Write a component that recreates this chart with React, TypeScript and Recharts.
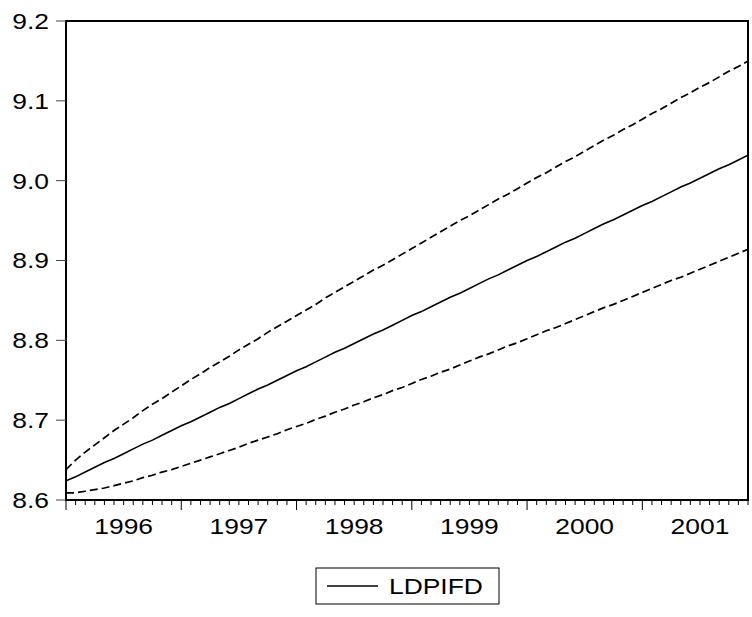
import React from "react"
import { LineChart, Line, XAxis, YAxis, ReferenceArea } from "recharts"

// Monthly forecast of LDPIFD, 1996M01 - 2001M12, with +/- 2 S.E. bands
const years = ["1996", "1997", "1998", "1999", "2000", "2001"]

const forecast = [
  8.624, 8.629, 8.635, 8.641, 8.647, 8.652, 8.658, 8.664, 8.670, 8.675, 8.681, 8.687,
  8.693, 8.698, 8.704, 8.710, 8.716, 8.721, 8.727, 8.733, 8.739, 8.744, 8.750, 8.756,
  8.762, 8.767, 8.773, 8.779, 8.785, 8.790, 8.796, 8.802, 8.808, 8.813, 8.819, 8.825,
  8.831, 8.836, 8.842, 8.848, 8.854, 8.859, 8.865, 8.871, 8.877, 8.882, 8.888, 8.894,
  8.900, 8.905, 8.911, 8.917, 8.923, 8.928, 8.934, 8.940, 8.946, 8.951, 8.957, 8.963,
  8.969, 8.974, 8.980, 8.986, 8.992, 8.997, 9.003, 9.009, 9.015, 9.020, 9.026, 9.032,
]

const upperBand = [
  8.638, 8.650, 8.660, 8.669, 8.678, 8.687, 8.695, 8.703, 8.712, 8.720, 8.727, 8.735,
  8.743, 8.751, 8.758, 8.766, 8.773, 8.780, 8.788, 8.795, 8.802, 8.810, 8.817, 8.824,
  8.831, 8.838, 8.845, 8.853, 8.860, 8.867, 8.874, 8.881, 8.888, 8.894, 8.901, 8.908,
  8.915, 8.922, 8.929, 8.936, 8.943, 8.950, 8.956, 8.963, 8.970, 8.977, 8.983, 8.990,
  8.997, 9.004, 9.010, 9.017, 9.024, 9.030, 9.037, 9.044, 9.051, 9.057, 9.064, 9.070,
  9.077, 9.084, 9.090, 9.097, 9.104, 9.110, 9.117, 9.123, 9.130, 9.137, 9.143, 9.150,
]

const lowerBand = [
  8.609, 8.609, 8.611, 8.613, 8.615, 8.618, 8.621, 8.624, 8.628, 8.631, 8.635, 8.638,
  8.642, 8.646, 8.650, 8.654, 8.658, 8.662, 8.666, 8.671, 8.675, 8.679, 8.683, 8.688,
  8.692, 8.696, 8.701, 8.705, 8.710, 8.714, 8.719, 8.723, 8.728, 8.732, 8.737, 8.741,
  8.746, 8.751, 8.755, 8.760, 8.764, 8.769, 8.774, 8.779, 8.783, 8.788, 8.793, 8.797,
  8.802, 8.807, 8.812, 8.816, 8.821, 8.826, 8.831, 8.836, 8.841, 8.845, 8.850, 8.855,
  8.860, 8.865, 8.870, 8.875, 8.879, 8.884, 8.889, 8.894, 8.899, 8.904, 8.909, 8.914,
]

const yTicks = [8.6, 8.7, 8.8, 8.9, 9.0, 9.1, 9.2]

const data = forecast.map((v, i) => ({
  t: i,
  forecast: v,
  upper: upperBand[i],
  lower: lowerBand[i],
}))

const monthTicks = data.map((d) => d.t)

const FONT = '"Liberation Sans", Arial, sans-serif'
const FONT_SIZE = 22
const STRETCH = 1.2

// month ticks hang below the axis; January gets a long one, July carries the year label
function MonthTick(props: any) {
  const { x, y, payload } = props
  const m = payload.value % 12
  const len = m === 0 ? 10 : 5
  return (
    <g>
      <line x1={x} x2={x} y1={y} y2={y + len} stroke="#000" strokeWidth={1} />
      {m === 6 && (
        <text
          transform={`translate(${x},${y + 34}) scale(${STRETCH},1)`}
          textAnchor="middle"
          fontFamily={FONT}
          fontSize={FONT_SIZE}
          fill="#000"
        >
          {years[Math.floor(payload.value / 12)]}
        </text>
      )}
    </g>
  )
}

function ValueTick(props: any) {
  const { x, y, payload } = props
  return (
    <text
      transform={`translate(${x},${y}) scale(${STRETCH},1)`}
      textAnchor="end"
      dy="0.36em"
      fontFamily={FONT}
      fontSize={FONT_SIZE}
      fill="#000"
    >
      {payload.value.toFixed(1)}
    </text>
  )
}

export default function App() {
  return (
    <div style={{ position: "absolute", left: 0, top: 0, width: 752, height: 617, background: "#fff" }}>
      <LineChart
        width={752}
        height={617}
        data={data}
        margin={{ top: 21, right: 4, left: 0, bottom: 77 }}
      >
        <XAxis
          dataKey="t"
          type="number"
          domain={[0, 71]}
          ticks={monthTicks}
          interval={0}
          allowDataOverflow
          axisLine={false}
          tickLine={false}
          tickSize={0}
          tickMargin={0}
          height={40}
          tick={<MonthTick />}
        />
        <YAxis
          type="number"
          domain={[8.6, 9.2]}
          ticks={yTicks}
          interval={0}
          allowDataOverflow
          width={66}
          axisLine={false}
          tickLine={{ stroke: "#444", strokeWidth: 1 }}
          tickSize={10}
          tickMargin={7}
          tick={<ValueTick />}
        />
        <Line
          type="linear"
          dataKey="upper"
          stroke="#000"
          strokeWidth={1.7}
          strokeDasharray="8 4"
          dot={false}
          isAnimationActive={false}
        />
        <Line
          type="linear"
          dataKey="lower"
          stroke="#000"
          strokeWidth={1.7}
          strokeDasharray="8 4"
          dot={false}
          isAnimationActive={false}
        />
        <Line
          type="linear"
          dataKey="forecast"
          name="LDPIFD"
          stroke="#000"
          strokeWidth={1.6}
          dot={false}
          isAnimationActive={false}
        />
        <ReferenceArea
          x1={0}
          x2={71}
          y1={8.6}
          y2={9.2}
          fill="none"
          fillOpacity={0}
          stroke="#000"
          strokeWidth={2}
          ifOverflow="visible"
        />
      </LineChart>
      <svg
        width={185}
        height={38}
        style={{ position: "absolute", left: 315, top: 567 }}
      >
        <rect x={1} y={1} width={183} height={36} fill="#fff" stroke="#000" strokeWidth={1} />
        <line x1={12} x2={63} y1={19} y2={19} stroke="#000" strokeWidth={1.5} />
        <text
          transform={`translate(74,27) scale(${STRETCH},1)`}
          fontFamily={FONT}
          fontSize={FONT_SIZE}
          fill="#000"
        >
          LDPIFD
        </text>
      </svg>
    </div>
  )
}
